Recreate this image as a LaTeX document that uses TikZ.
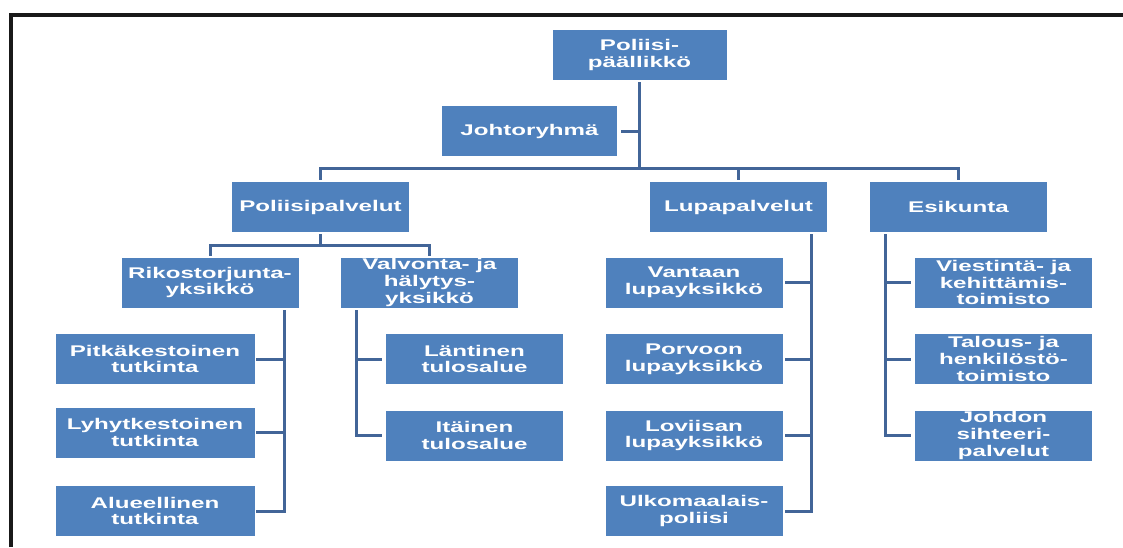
\documentclass[tikz,border=0pt]{standalone}
\usepackage{fontspec}
\usepackage{xcolor}
\usepackage{tikz}
\usetikzlibrary{positioning,calc}
\newfontfamily\orgfont{Liberation Sans}[FakeStretch=1.56]
\definecolor{boxblue}{RGB}{79,129,189}
\definecolor{linkblue}{RGB}{66,101,152}
\tikzset{
    % Le style pour les boîtes de l'organigramme
    orgbox/.style={
        fill=boxblue,
        draw=none,
        text=white,
        font=\orgfont\bfseries\fontsize{11.6pt}{12.6pt}\selectfont,
        align=center,
        inner xsep=2pt,
        inner ysep=0pt,
        minimum width=132.75pt,
        minimum height=37.5pt
    },
    % Les boîtes plus larges de la colonne de gauche
    widebox/.style={
        orgbox,
        minimum width=149.25pt
    },
    % Le style pour les traits de liaison
    link/.style={
        draw=linkblue,
        line width=2.25pt,
        line cap=rect
    }
}

\begin{document}
\begin{tikzpicture}[x=0.75pt,y=-0.75pt]
        \useasboundingbox (0,0) rectangle (1123,547);

        % --- 1. Le cadre (coupé à droite et en bas) ---
        \draw[line width=2.6pt,black!90] (11,547) -- (11,15) -- (1123,15);

        % --- 2. Les boîtes ---
        % Direction
        \node[orgbox, minimum width=130.5pt] (chef)  at (639.5, 55)  {Poliisi-\\päällikkö};
        \node[orgbox, minimum width=131.25pt] (johto) at (529.5, 131) {Johtoryhmä};

        % Premier niveau
        \node[orgbox] (poli) at (320.5, 207) {Poliisipalvelut};
        \node[orgbox] (lupa) at (738.5, 207) {Lupapalvelut};
        \node[orgbox] (esik) at (958.5, 207) {Esikunta};

        % Sous Poliisipalvelut
        \node[orgbox] (riko)  at (210, 282.5)   {Rikostorjunta-\\yksikkö};
        \node[orgbox] (valvo) at (429.5, 282.5) {Valvonta- ja\\hälytys-\\yksikkö};

        \node[widebox] (pitka) at (155, 359)   {Pitkäkestoinen\\tutkinta};
        \node[widebox] (lyhyt) at (155, 432.5) {Lyhytkestoinen\\tutkinta};
        \node[widebox] (alue)  at (155, 511)   {Alueellinen\\tutkinta};

        \node[orgbox] (lant)  at (474.5, 359)   {Läntinen\\tulosalue};
        \node[orgbox] (itain) at (474.5, 435.5) {Itäinen\\tulosalue};

        % Sous Lupapalvelut
        \node[orgbox] (vantaa)  at (694, 282.5) {Vantaan\\lupayksikkö};
        \node[orgbox] (porvoo)  at (694, 359)   {Porvoon\\lupayksikkö};
        \node[orgbox] (loviisa) at (694, 435.5) {Loviisan\\lupayksikkö};
        \node[orgbox] (ulko)    at (694, 511)   {Ulkomaalais-\\poliisi};

        % Sous Esikunta
        \node[orgbox] (viest)  at (1003.5, 282.5) {Viestintä- ja\\kehittämis-\\toimisto};
        \node[orgbox] (talous) at (1003.5, 359)   {Talous- ja\\henkilöstö-\\toimisto};
        \node[orgbox] (johdon) at (1003.5, 435.5) {Johdon\\sihteeri-\\palvelut};

        % --- 3. Les liaisons ---
        \coordinate (bus1) at (639.5, 168);
        \coordinate (bus2) at (320.5, 245);
        \coordinate (rikoX)  at (284, 0);
        \coordinate (valvoX) at (356, 0);
        \coordinate (lupaX)  at (811, 0);
        \coordinate (esikX)  at (885.5, 0);

        \draw[link, shorten <=2.25pt] (chef.south) -- (bus1);
        \draw[link, shorten <=4pt] (johto.east) -- (johto.east -| bus1);
        \draw[link, shorten <=2.25pt, shorten >=2.25pt] (poli.north) |- (bus1) -| (esik.north);
        \draw[link, shorten >=2.25pt] (lupa.north |- bus1) -- (lupa.north);

        \draw[link, shorten <=2.25pt] (poli.south) -- (bus2);
        \draw[link, shorten <=2.25pt, shorten >=2.25pt] (riko.north) |- (bus2) -| (valvo.north);

        \draw[link, shorten <=3pt] (riko.south -| rikoX) -- (alue.east -| rikoX);
        \foreach \n in {pitka,lyhyt,alue}
            \draw[link, shorten <=2.25pt] (\n.east) -- (\n.east -| rikoX);

        \draw[link, shorten <=3pt] (valvo.south -| valvoX) -- (itain.west -| valvoX);
        \foreach \n in {lant,itain}
            \draw[link, shorten <=3.75pt] (\n.west) -- (\n.west -| valvoX);

        \draw[link, shorten <=2.25pt] (lupa.south -| lupaX) -- (ulko.east -| lupaX);
        \foreach \n in {vantaa,porvoo,loviisa,ulko}
            \draw[link, shorten <=3pt] (\n.east) -- (\n.east -| lupaX);

        \draw[link, shorten <=2.25pt] (esik.south -| esikX) -- (johdon.west -| esikX);
        \foreach \n in {viest,talous,johdon}
            \draw[link, shorten <=3.75pt] (\n.west) -- (\n.west -| esikX);
    \end{tikzpicture}
\end{document}
